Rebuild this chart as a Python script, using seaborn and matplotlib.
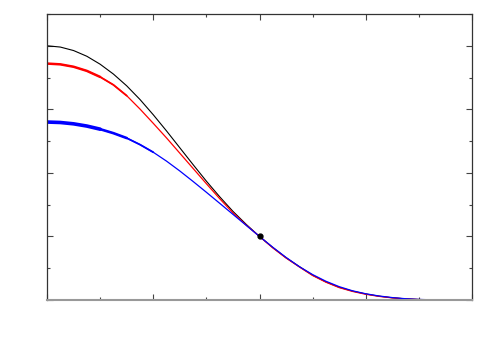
import matplotlib
matplotlib.use("Agg")
import matplotlib.pyplot as plt
import seaborn as sns
import pandas as pd
from matplotlib.ticker import MultipleLocator, NullFormatter

# Values (x step 0.125)
x_vals = [0.0, 0.125, 0.25, 0.375, 0.5, 0.625, 0.75, 0.875, 1.0, 1.125, 1.25, 1.375,
          1.5, 1.625, 1.75, 1.875, 2.0, 2.125, 2.25, 2.375, 2.5, 2.625, 2.75, 2.875,
          3.0, 3.125, 3.25, 3.375, 3.5, 3.625, 3.75, 3.875, 4.0]
black_vals = [4.000, 3.980, 3.925, 3.835, 3.710, 3.555, 3.370, 3.155, 2.915, 2.660, 2.395, 2.130,
              1.870, 1.625, 1.395, 1.190, 1.000, 0.825, 0.665, 0.525, 0.390, 0.285, 0.200, 0.140,
              0.095, 0.060, 0.035, 0.018, 0.008, 0.003, 0.001, 0.0, 0.0]
red_vals = [3.720, 3.708, 3.670, 3.605, 3.510, 3.385, 3.215, 3.005, 2.780, 2.550, 2.310, 2.070,
            1.830, 1.595, 1.372, 1.178, 1.000, 0.820, 0.660, 0.520, 0.385, 0.280, 0.195, 0.135,
            0.090, 0.057, 0.033, 0.017, 0.007, 0.002, 0.0005, 0.0, 0.0]
blue_vals = [2.800, 2.793, 2.772, 2.737, 2.688, 2.625, 2.548, 2.445, 2.325, 2.185, 2.030, 1.865,
             1.695, 1.522, 1.348, 1.174, 1.000, 0.830, 0.670, 0.525, 0.400, 0.295, 0.210, 0.145,
             0.098, 0.063, 0.038, 0.020, 0.009, 0.003, 0.001, 0.0, 0.0]
point_x = [2.0]
point_y = [1.0]

sns.set_theme(style="white")
plt.rcParams['font.family'] = ['DejaVu Sans']

fig = plt.figure(figsize=(5, 3.5), dpi=100)
ax = fig.add_axes([47/500, 50/350, 425/500, 286/350])

df_black = pd.DataFrame({"x": x_vals, "y": black_vals})
df_red = pd.DataFrame({"x": x_vals, "y": red_vals})
df_blue = pd.DataFrame({"x": x_vals, "y": blue_vals})

sns.lineplot(data=df_black, x="x", y="y", ax=ax, color="black", lw=0.8, estimator=None, sort=False)
sns.lineplot(data=df_red, x="x", y="y", ax=ax, color="#ff0000", lw=0.9, estimator=None, sort=False)
sns.lineplot(data=df_blue, x="x", y="y", ax=ax, color="#0000ff", lw=0.9, estimator=None, sort=False)

# thicker leading parts (the reference lines taper)
sns.lineplot(data=df_red.iloc[:5], x="x", y="y", ax=ax, color="#ff0000", lw=1.8, estimator=None, sort=False)
sns.lineplot(data=df_red.iloc[4:7], x="x", y="y", ax=ax, color="#ff0000", lw=1.3, estimator=None, sort=False)
sns.lineplot(data=df_blue.iloc[:5], x="x", y="y", ax=ax, color="#0000ff", lw=2.6, estimator=None, sort=False)
sns.lineplot(data=df_blue.iloc[4:7], x="x", y="y", ax=ax, color="#0000ff", lw=1.9, estimator=None, sort=False)
sns.lineplot(data=df_blue.iloc[6:9], x="x", y="y", ax=ax, color="#0000ff", lw=1.3, estimator=None, sort=False)

ax.plot(point_x, point_y, "o", color="black", ms=3.5, zorder=5)

ax.set_xlim(0, 4)
ax.set_ylim(0, 4.5)
ax.xaxis.set_major_locator(MultipleLocator(1))
ax.xaxis.set_minor_locator(MultipleLocator(0.5))
ax.yaxis.set_major_locator(MultipleLocator(1))
ax.yaxis.set_minor_locator(MultipleLocator(0.5))
ax.xaxis.set_major_formatter(NullFormatter())
ax.yaxis.set_major_formatter(NullFormatter())
ax.tick_params(which="both", direction="in", top=True, right=True, bottom=True, left=True,
               labelbottom=False, labelleft=False, color="#444444", width=0.8)
ax.tick_params(which="major", length=4)
ax.tick_params(which="minor", length=2.5)
ax.set_xlabel("")
ax.set_ylabel("")
for side in ["left", "top", "right"]:
    ax.spines[side].set_color("#333333")
    ax.spines[side].set_linewidth(0.9)
ax.spines["bottom"].set_color("#999999")
ax.spines["bottom"].set_linewidth(1.5)
ax.grid(False)

fig.savefig("out.png", dpi=100)
